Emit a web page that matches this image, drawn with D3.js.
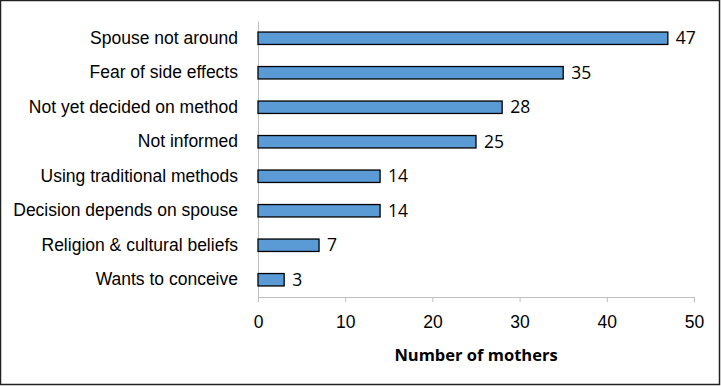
<!DOCTYPE html>
<html>
<head>
<meta charset="utf-8">
<script src="https://cdn.jsdelivr.net/npm/d3@7"></script>
<style>
  body { margin: 0; background: #fff; }
  svg { display: block; font-family: "Open Sans", sans-serif; }
</style>
</head>
<body>
<div id="chart"></div>
<script>
const reasons = [
  "Spouse not around",
  "Fear of side effects",
  "Not yet decided on method",
  "Not informed",
  "Using traditional methods",
  "Decision depends on spouse",
  "Religion & cultural beliefs",
  "Wants to conceive"
];
const mothers = [47, 35, 28, 25, 14, 14, 7, 3];
const xTicks = [0, 10, 20, 30, 40, 50];

const width = 721;
const height = 386;
const margin = {top: 21, right: 30, bottom: 89, left: 258};
const innerW = width - margin.left - margin.right;
const innerH = height - margin.top - margin.bottom;

const svg = d3.select("#chart")
    .append("svg")
    .attr("width", width)
    .attr("height", height);

// outer frame
svg.append("rect")
    .attr("x", 0.5).attr("y", 0.5)
    .attr("width", width - 2).attr("height", height - 2)
    .attr("fill", "#fff")
    .attr("stroke", "#222")
    .attr("stroke-width", 1.5);

const g = svg.append("g")
    .attr("transform", `translate(${margin.left},${margin.top})`);

const x = d3.scaleLinear()
    .domain([0, 50])
    .range([0, innerW + 3]);

const y = d3.scaleBand()
    .domain(reasons)
    .range([0, innerH])
    .paddingInner(0.64)
    .paddingOuter(0.32);

// x axis
const xAxis = g.append("g")
    .attr("transform", `translate(0,${innerH})`)
    .call(d3.axisBottom(x).tickValues(xTicks).tickSize(5).tickPadding(14));
xAxis.select(".domain").attr("stroke", "#bfbfbf");
xAxis.selectAll(".tick line").attr("stroke", "#bfbfbf");
xAxis.selectAll("text")
    .style("font-size", "17.5px")
    .style("fill", "#000");

// y axis
const yAxis = g.append("g")
    .call(d3.axisLeft(y).tickSize(0).tickPadding(20));
yAxis.select(".domain").attr("stroke", "#bfbfbf");
yAxis.selectAll("text")
    .style("font-size", "17.5px")
    .style("fill", "#000");

const data = reasons.map((r, i) => ({reason: r, value: mothers[i]}));

const bars = g.selectAll(".bar")
    .data(data)
    .enter().append("g");

bars.append("rect")
    .attr("class", "bar")
    .attr("x", 0)
    .attr("y", d => y(d.reason))
    .attr("width", d => x(d.value))
    .attr("height", y.bandwidth())
    .attr("fill", "#5b9bd5")
    .attr("stroke", "#000")
    .attr("stroke-width", 1.3);

bars.append("text")
    .attr("x", d => x(d.value) + 8)
    .attr("y", d => y(d.reason) + y.bandwidth() / 2)
    .attr("dy", ".35em")
    .text(d => d.value)
    .style("font-size", "17.5px")
    .style("fill", "#000");

// axis title
g.append("text")
    .attr("x", (innerW + 3) / 2)
    .attr("y", innerH + 64)
    .attr("text-anchor", "middle")
    .style("font-size", "16.5px")
    .style("font-weight", "bold")
    .style("fill", "#000")
    .text("Number of mothers");
</script>
</body>
</html>
